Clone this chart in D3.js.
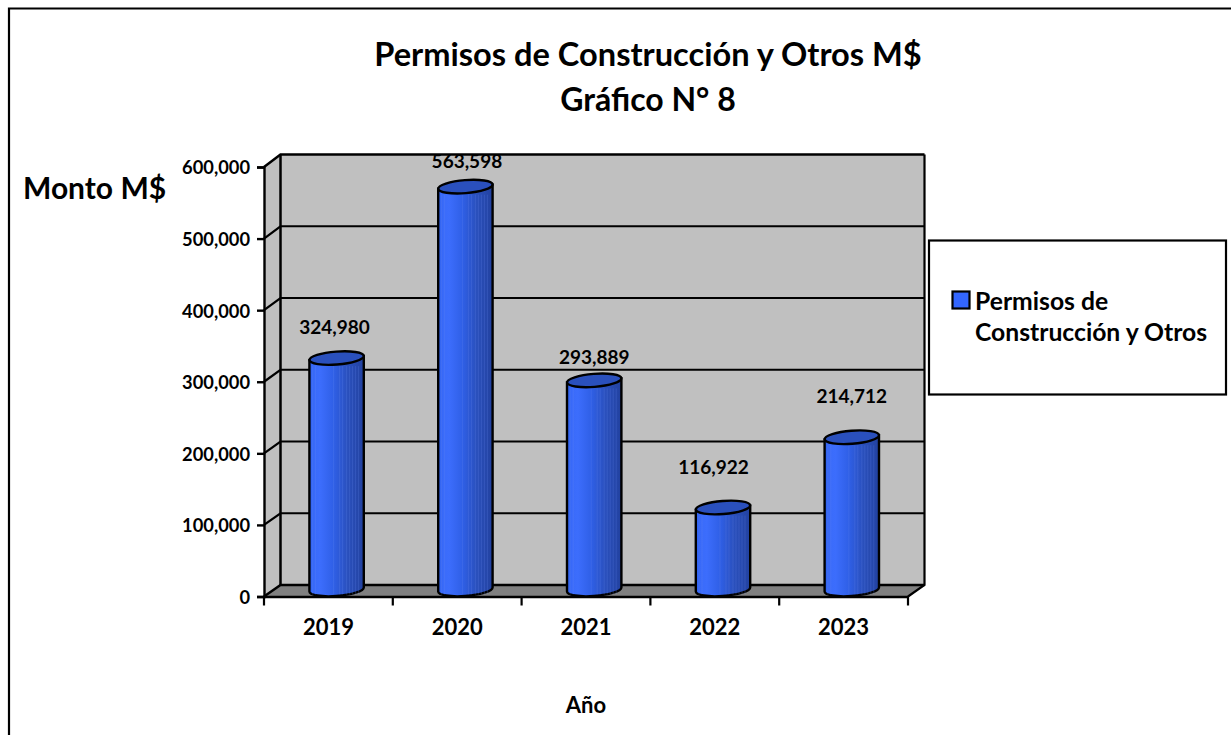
<!DOCTYPE html>
<html><head><meta charset="utf-8">
<script src="https://cdn.jsdelivr.net/npm/d3@7"></script>
<style>html,body{margin:0;padding:0;background:#fff;overflow:hidden}svg{display:block}text{font-family:Lato,"Open Sans",sans-serif;font-weight:700;fill:#000}</style>
</head><body><svg id="c" width="1231" height="735"></svg>
<script>
const years=["2019","2020","2021","2022","2023"];
const values=[324980,563598,293889,116922,214712];
const yTicks=[0,100000,200000,300000,400000,500000,600000];
const svg=d3.select("#c");
const yFront=d3.scaleLinear().domain([0,600000]).range([596.5,167]);
const yBack=d3.scaleLinear().domain([0,600000]).range([585,154.5]);
const yMid=d3.scaleLinear().domain([0,600000]).range([591.5,160.5]);
const xFront=d3.scaleBand().domain(years).range([264,908]);
const dx=16.5;
const fmt=d3.format(",");
// outer frame: top and left edges only are visible
svg.append("path").attr("d","M1231,8.5L9,8.5L9,735").attr("fill","none").attr("stroke","#000").attr("stroke-width",2.2);

const xL=xFront.range()[0],xR=xFront.range()[1];
svg.append("rect").attr("x",xL+dx).attr("y",yBack(600000)).attr("width",xR-xL).attr("height",yBack(0)-yBack(600000)).attr("fill","#c0c0c0");
svg.append("path").attr("d",`M${xL},${yFront(0)}L${xL},${yFront(600000)}L${xL+dx},${yBack(600000)}L${xL+dx},${yBack(0)}Z`).attr("fill","#c0c0c0");
svg.append("path").attr("d",`M${xL},${yFront(0)}L${xL+dx},${yBack(0)}L${xR+dx},${yBack(0)}L${xR},${yFront(0)}Z`).attr("fill","#808080");
yTicks.forEach(t=>{
  svg.append("path").attr("d",`M${xL},${yFront(t)}L${xL+dx},${yBack(t)}L${xR+dx},${yBack(t)}`).attr("fill","none").attr("stroke","#000").attr("stroke-width",t===0||t===600000?2.5:2.2);
});
svg.append("path").attr("d",`M${xR},${yFront(0)}L${xR+dx},${yBack(0)}L${xR+dx},${yBack(600000)}`).attr("fill","none").attr("stroke","#000").attr("stroke-width",2.2);
svg.append("line").attr("x1",xL+dx).attr("x2",xL+dx).attr("y1",yBack(0)).attr("y2",yBack(600000)).attr("stroke","#000").attr("stroke-width",2.5);
const yAxis=d3.axisLeft(yFront).tickValues(yTicks).tickFormat(fmt).tickSize(7).tickPadding(7);
const gy=svg.append("g").attr("transform",`translate(${xL},0)`).call(yAxis);
gy.selectAll("path,line").attr("stroke","#000").attr("stroke-width",2.4);
gy.selectAll("text").attr("font-size",18.3).style("font-family","Lato").attr("dy","0.38em");
const xAxis=d3.axisBottom(xFront).tickSize(0).tickPadding(23);
const gx=svg.append("g").attr("transform",`translate(0,${yFront(0)})`).call(xAxis);
gx.selectAll("path").attr("stroke","#000").attr("stroke-width",2.5);
gx.selectAll("line").remove();
gx.selectAll("text").attr("font-size",22).style("font-family","Lato");
const edges=[...years.map(y=>xFront(y)),xR];
svg.append("g").selectAll("line").data(edges).join("line").attr("x1",d=>d).attr("x2",d=>d).attr("y1",yFront(0)).attr("y2",yFront(0)+9).attr("stroke","#000").attr("stroke-width",2.2);
const defs=svg.append("defs");
const g=defs.append("linearGradient").attr("id","cyl");
[[0,"#2f62ee"],[.1,"#3a6bfa"],[.2,"#3c6dfc"],[.45,"#2f5fe6"],[.7,"#2a50bd"],[1,"#22419f"]].forEach(s=>g.append("stop").attr("offset",s[0]).attr("stop-color",s[1]));
const rx=27.2,ry=6.5,tilt=-4.5;
const bw=xFront.bandwidth();
const cx=y=>xFront(y)+bw/2+8.2;
const bars=svg.append("g").selectAll("g").data(years.map((y,i)=>({y,v:values[i]}))).join("g");
bars.append("path").attr("d",d=>{
  const c=cx(d.y),t=yMid(d.v),b=yMid(0);
  return `M${c-rx},${t+2}L${c-rx},${b}A${rx},${ry} ${tilt} 0 0 ${c+rx},${b-4}L${c+rx},${t-2}Z`;
}).attr("fill","url(#cyl)").attr("stroke","#000").attr("stroke-width",2.4);
bars.append("g").each(function(d){
  const c=cx(d.y),t=yMid(d.v),b=yMid(0);
  const sel=d3.select(this);
  [-24,-21,-3,3,6,10,13,16,19,22].forEach(o=>sel.append("line").attr("x1",c+o).attr("x2",c+o).attr("y1",t+8).attr("y2",b+3).attr("stroke","#6f8ff0").attr("stroke-opacity",.22).attr("stroke-width",1));
});
bars.append("ellipse").attr("cx",d=>cx(d.y)).attr("cy",d=>yMid(d.v)).attr("rx",rx).attr("ry",ry)
 .attr("transform",d=>`rotate(${tilt} ${cx(d.y)} ${yMid(d.v)})`).attr("fill","#2a50bd").attr("stroke","#000").attr("stroke-width",2.4);
// data labels: placed as in the source, offset from each column's top
const labelDx=[-2,1.5,0,-9.5,0];
const labelDy=[-24,-19,-16,-34,-34];
svg.append("g").selectAll("text").data(values).join("text")
 .attr("x",(d,i)=>cx(years[i])+labelDx[i])
 .attr("y",(d,i)=>yMid(d)+labelDy[i])
 .attr("text-anchor","middle").attr("font-size",19).text(d=>fmt(d));
svg.append("text").attr("x",648).attr("y",66).attr("text-anchor","middle").attr("font-size",32.6).text("Permisos de Construcción y Otros M$");
svg.append("text").attr("x",648).attr("y",111).attr("text-anchor","middle").attr("font-size",32).text("Gráfico N° 8");
svg.append("text").attr("x",23).attr("y",199).attr("font-size",30).text("Monto M$");
svg.append("text").attr("x",586).attr("y",713).attr("text-anchor","middle").attr("font-size",22).text("Año");
svg.append("rect").attr("x",929).attr("y",240.5).attr("width",297).attr("height",154).attr("fill","#fff").attr("stroke","#000").attr("stroke-width",2.2);
svg.append("rect").attr("x",952.5).attr("y",291.5).attr("width",17).attr("height",17).attr("fill","#3366ff").attr("stroke","#000").attr("stroke-width",2.2);
svg.append("text").attr("x",975).attr("y",309.5).attr("font-size",24.7).text("Permisos de");
svg.append("text").attr("x",975).attr("y",341).attr("font-size",24.7).text("Construcción y Otros");
</script></body></html>
